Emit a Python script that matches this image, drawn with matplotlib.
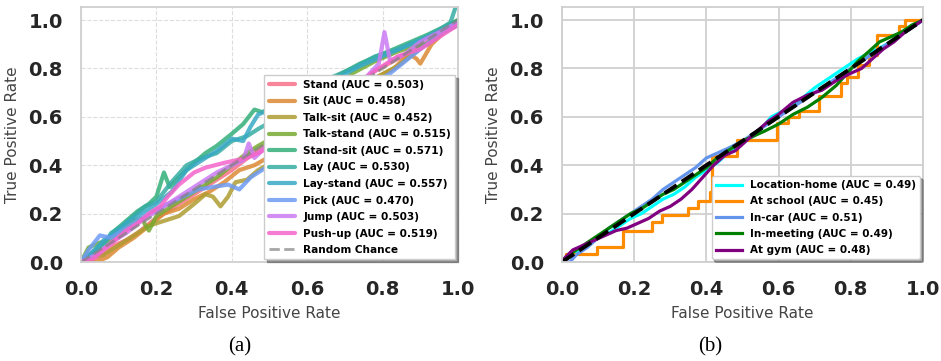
import matplotlib
matplotlib.use("Agg")
import matplotlib.pyplot as plt
import seaborn as sns

# ---- (a) activity ROC curves ----
act_names = ['Stand', 'Sit', 'Talk-sit', 'Talk-stand', 'Stand-sit', 'Lay',
             'Lay-stand', 'Pick', 'Jump', 'Push-up']
act_auc = [0.503, 0.458, 0.452, 0.515, 0.571, 0.530, 0.557, 0.470, 0.503, 0.519]

stand_fpr = [0, 0.03, 0.06, 0.09, 0.12, 0.15, 0.19, 0.23, 0.27, 0.31, 0.35, 0.40, 0.45, 0.55, 0.65, 0.72, 0.78, 0.84, 0.90, 0.95, 1.0]
stand_tpr = [0, 0.01, 0.03, 0.07, 0.09, 0.12, 0.17, 0.21, 0.25, 0.29, 0.33, 0.38, 0.44, 0.54, 0.64, 0.72, 0.79, 0.84, 0.89, 0.94, 0.98]

sit_fpr = [0, 0.04, 0.07, 0.10, 0.14, 0.18, 0.22, 0.26, 0.30, 0.34, 0.38, 0.42, 0.46, 0.55, 0.65, 0.72, 0.78, 0.83, 0.87, 0.89, 0.90, 0.93, 0.97, 1.0]
sit_tpr = [0, 0.0, 0.02, 0.06, 0.10, 0.15, 0.20, 0.22, 0.26, 0.29, 0.33, 0.38, 0.40, 0.48, 0.60, 0.70, 0.76, 0.80, 0.86, 0.84, 0.82, 0.90, 0.96, 0.99]

talksit_fpr = [0, 0.03, 0.06, 0.10, 0.14, 0.18, 0.22, 0.26, 0.30, 0.33, 0.35, 0.37, 0.39, 0.41, 0.44, 0.47, 0.55, 0.65, 0.72, 0.78, 0.84, 0.89, 0.94, 1.0]
talksit_tpr = [0, 0.02, 0.03, 0.07, 0.11, 0.15, 0.17, 0.19, 0.24, 0.28, 0.27, 0.23, 0.27, 0.33, 0.34, 0.38, 0.45, 0.57, 0.68, 0.76, 0.81, 0.87, 0.93, 0.98]

talkstand_fpr = [0, 0.02, 0.05, 0.08, 0.11, 0.14, 0.16, 0.18, 0.20, 0.24, 0.28, 0.32, 0.36, 0.40, 0.44, 0.47, 0.55, 0.65, 0.72, 0.78, 0.84, 0.88, 0.92, 0.96, 1.0]
talkstand_tpr = [0, 0.06, 0.08, 0.09, 0.13, 0.17, 0.18, 0.13, 0.19, 0.23, 0.27, 0.31, 0.35, 0.40, 0.45, 0.48, 0.55, 0.68, 0.78, 0.83, 0.87, 0.89, 0.90, 0.95, 1.0]

standsit_fpr = [0, 0.03, 0.06, 0.09, 0.12, 0.15, 0.18, 0.20, 0.22, 0.235, 0.26, 0.30, 0.33, 0.36, 0.40, 0.43, 0.46, 0.48, 0.55, 0.62, 0.68, 0.74, 0.80, 0.86, 0.92, 0.96, 1.0]
standsit_tpr = [0, 0.04, 0.08, 0.13, 0.17, 0.21, 0.24, 0.27, 0.37, 0.31, 0.35, 0.41, 0.45, 0.48, 0.53, 0.57, 0.63, 0.62, 0.66, 0.72, 0.77, 0.82, 0.86, 0.90, 0.94, 0.97, 1.0]

lay_fpr = [0, 0.03, 0.06, 0.08, 0.11, 0.14, 0.17, 0.20, 0.24, 0.28, 0.32, 0.36, 0.40, 0.44, 0.47, 0.55, 0.62, 0.66, 0.72, 0.78, 0.84, 0.90, 0.95, 0.98, 0.995, 1.0]
lay_tpr = [0, 0.03, 0.07, 0.12, 0.15, 0.19, 0.23, 0.25, 0.33, 0.40, 0.43, 0.45, 0.50, 0.52, 0.55, 0.62, 0.70, 0.76, 0.80, 0.85, 0.88, 0.92, 0.96, 0.99, 1.06, 1.06]

laystand_fpr = [0, 0.03, 0.06, 0.09, 0.12, 0.16, 0.20, 0.24, 0.28, 0.32, 0.36, 0.40, 0.43, 0.45, 0.47, 0.55, 0.63, 0.68, 0.74, 0.80, 0.86, 0.92, 0.96, 1.0]
laystand_tpr = [0, 0.04, 0.09, 0.12, 0.16, 0.20, 0.24, 0.29, 0.38, 0.42, 0.46, 0.51, 0.50, 0.56, 0.61, 0.66, 0.72, 0.76, 0.81, 0.85, 0.89, 0.93, 0.96, 0.99]

pick_fpr = [0, 0.02, 0.05, 0.08, 0.11, 0.15, 0.19, 0.23, 0.27, 0.31, 0.35, 0.39, 0.42, 0.45, 0.47, 0.55, 0.65, 0.72, 0.78, 0.82, 0.86, 0.90, 0.95, 1.0]
pick_tpr = [0, 0.05, 0.11, 0.10, 0.13, 0.17, 0.21, 0.24, 0.27, 0.30, 0.31, 0.32, 0.30, 0.35, 0.37, 0.45, 0.58, 0.68, 0.74, 0.78, 0.83, 0.88, 0.94, 0.98]

jump_fpr = [0, 0.04, 0.08, 0.12, 0.16, 0.20, 0.24, 0.28, 0.32, 0.36, 0.40, 0.43, 0.445, 0.46, 0.50, 0.60, 0.70, 0.76, 0.79, 0.805, 0.82, 0.86, 0.90, 0.95, 1.0]
jump_tpr = [0, 0.03, 0.08, 0.12, 0.17, 0.21, 0.25, 0.29, 0.33, 0.37, 0.40, 0.42, 0.49, 0.43, 0.49, 0.60, 0.70, 0.77, 0.82, 0.95, 0.83, 0.86, 0.91, 0.95, 0.99]

pushup_fpr = [0, 0.03, 0.06, 0.09, 0.12, 0.15, 0.18, 0.21, 0.23, 0.26, 0.30, 0.33, 0.38, 0.41, 0.44, 0.47, 0.55, 0.65, 0.72, 0.78, 0.84, 0.90, 0.95, 1.0]
pushup_tpr = [0, 0.01, 0.05, 0.09, 0.13, 0.16, 0.20, 0.23, 0.27, 0.32, 0.37, 0.39, 0.41, 0.42, 0.43, 0.45, 0.52, 0.63, 0.72, 0.79, 0.85, 0.88, 0.93, 0.98]

act_fpr = [stand_fpr, sit_fpr, talksit_fpr, talkstand_fpr, standsit_fpr, lay_fpr,
           laystand_fpr, pick_fpr, jump_fpr, pushup_fpr]
act_tpr = [stand_tpr, sit_tpr, talksit_tpr, talkstand_tpr, standsit_tpr, lay_tpr,
           laystand_tpr, pick_tpr, jump_tpr, pushup_tpr]

# ---- (b) context ROC curves ----
ctx_names = ['Location-home', 'At school', 'In-car', 'In-meeting', 'At gym']
ctx_auc = [0.49, 0.45, 0.51, 0.49, 0.48]
ctx_colors = ['cyan', 'darkorange', 'cornflowerblue', 'green', 'purple']
ctx_steps = [False, True, False, False, False]

home_fpr = [0, 0.01, 0.04, 0.07, 0.10, 0.13, 0.16, 0.19, 0.22, 0.25, 0.28, 0.31, 0.34, 0.37, 0.40, 0.43, 0.46, 0.50, 0.54, 0.58, 0.62, 0.66, 0.70, 0.74, 0.78, 0.82, 0.86, 0.90, 0.94, 0.97, 1.0]
home_tpr = [0, 0.01, 0.04, 0.07, 0.10, 0.12, 0.15, 0.18, 0.20, 0.23, 0.26, 0.28, 0.31, 0.35, 0.38, 0.41, 0.45, 0.49, 0.53, 0.60, 0.63, 0.67, 0.72, 0.76, 0.80, 0.84, 0.87, 0.90, 0.94, 0.97, 1.0]

school_fpr = [0, 0.012, 0.096, 0.17, 0.25, 0.276, 0.35, 0.378, 0.41, 0.415, 0.485, 0.596, 0.625, 0.657, 0.712, 0.772, 0.79, 0.82, 0.85, 0.874, 0.935, 0.95, 1.0]
school_tpr = [0, 0.034, 0.062, 0.13, 0.165, 0.193, 0.224, 0.254, 0.289, 0.44, 0.504, 0.573, 0.60, 0.626, 0.688, 0.738, 0.766, 0.814, 0.855, 0.94, 0.975, 1.0, 1.0]

car_fpr = [0, 0.022, 0.04, 0.07, 0.10, 0.13, 0.16, 0.19, 0.22, 0.25, 0.28, 0.31, 0.34, 0.37, 0.40, 0.43, 0.46, 0.50, 0.54, 0.58, 0.62, 0.66, 0.70, 0.74, 0.78, 0.82, 0.86, 0.90, 0.94, 0.97, 1.0]
car_tpr = [0, 0.0, 0.03, 0.06, 0.10, 0.14, 0.17, 0.20, 0.23, 0.26, 0.30, 0.33, 0.36, 0.39, 0.43, 0.45, 0.47, 0.50, 0.54, 0.58, 0.62, 0.66, 0.70, 0.74, 0.78, 0.82, 0.86, 0.90, 0.94, 0.97, 1.0]

meeting_fpr = [0, 0.01, 0.04, 0.07, 0.10, 0.13, 0.16, 0.19, 0.22, 0.25, 0.28, 0.31, 0.34, 0.37, 0.40, 0.43, 0.46, 0.50, 0.53, 0.56, 0.60, 0.64, 0.68, 0.72, 0.76, 0.79, 0.82, 0.85, 0.88, 0.91, 0.94, 0.97, 1.0]
meeting_tpr = [0, 0.02, 0.05, 0.08, 0.11, 0.14, 0.17, 0.20, 0.22, 0.25, 0.28, 0.30, 0.33, 0.36, 0.39, 0.43, 0.46, 0.50, 0.52, 0.54, 0.57, 0.61, 0.64, 0.68, 0.73, 0.78, 0.83, 0.87, 0.91, 0.93, 0.95, 0.98, 1.0]

gym_fpr = [0, 0.01, 0.03, 0.06, 0.09, 0.12, 0.15, 0.18, 0.21, 0.24, 0.27, 0.30, 0.33, 0.36, 0.39, 0.42, 0.45, 0.48, 0.51, 0.54, 0.57, 0.60, 0.64, 0.68, 0.72, 0.76, 0.80, 0.83, 0.86, 0.89, 0.92, 0.95, 0.98, 1.0]
gym_tpr = [0, 0.02, 0.05, 0.07, 0.09, 0.11, 0.13, 0.14, 0.16, 0.18, 0.21, 0.23, 0.26, 0.30, 0.35, 0.40, 0.44, 0.46, 0.50, 0.54, 0.58, 0.61, 0.66, 0.69, 0.71, 0.75, 0.78, 0.80, 0.84, 0.88, 0.91, 0.95, 0.98, 1.0]

ctx_fpr = [home_fpr, school_fpr, car_fpr, meeting_fpr, gym_fpr]
ctx_tpr = [home_tpr, school_tpr, car_tpr, meeting_tpr, gym_tpr]

ticks = [0.0, 0.2, 0.4, 0.6, 0.8, 1.0]

# ---- figure ----
fig = plt.figure(figsize=(9.41, 3.61), dpi=100)
ax1 = fig.add_axes([0.0861, 0.2742, 0.4006, 0.7064])
ax2 = fig.add_axes([0.5972, 0.2742, 0.3836, 0.7064])


def style_axes(ax, grid_ls, grid_lw, grid_color):
    ax.set_xlim(0, 1.0)
    ax.set_ylim(0, 1.054)
    ax.set_xticks(ticks)
    ax.set_yticks(ticks)
    ax.set_xticklabels(["%.1f" % t for t in ticks])
    ax.set_yticklabels(["%.1f" % t for t in ticks])
    ax.tick_params(length=0, pad=13, labelsize=14, labelcolor='#262626')
    for lab in ax.get_xticklabels() + ax.get_yticklabels():
        lab.set_fontweight('bold')
    ax.grid(True, ls=grid_ls, lw=grid_lw, color=grid_color)
    ax.set_axisbelow(True)
    for sp in ax.spines.values():
        sp.set_color('#cfcfcf')
        sp.set_linewidth(1.3)
    ax.set_xlabel('False Positive Rate', fontsize=11, color='#444444', labelpad=5)
    ax.set_ylabel('True Positive Rate', fontsize=11, color='#444444', labelpad=6)


# (a)
pal = sns.color_palette("husl", 10)
for i in range(len(act_names)):
    ax1.plot(act_fpr[i], act_tpr[i], color=pal[i], lw=3, alpha=0.85,
             solid_joinstyle='round', solid_capstyle='round',
             label="%s (AUC = %.3f)" % (act_names[i], act_auc[i]))
ax1.plot([0, 1], [0, 1], ls='--', color='gray', lw=2, alpha=0.7, label='Random Chance')
style_axes(ax1, '--', 0.8, '#dddddd')
leg1 = ax1.legend(loc='lower right', prop={'size': 7.6, 'weight': 'bold'},
                  shadow=True, framealpha=1, fancybox=False, edgecolor='#cccccc',
                  handlelength=2.5, borderaxespad=0.25, labelspacing=0.62)
leg1.get_frame().set_linewidth(1.0)

# (b)
for i in range(len(ctx_names)):
    ds = 'steps-post' if ctx_steps[i] else 'default'
    ax2.plot(ctx_fpr[i], ctx_tpr[i], color=ctx_colors[i], lw=2.3, drawstyle=ds,
             label="%s (AUC = %.2f)" % (ctx_names[i], ctx_auc[i]))
ax2.plot([0, 1], [0, 1], 'k--', lw=2.8)
style_axes(ax2, '-', 1.3, '#d0d0d0')
leg2 = ax2.legend(loc='lower right', prop={'size': 7.5, 'weight': 'bold'},
                  shadow=True, framealpha=1, fancybox=True, edgecolor='#cccccc',
                  handlelength=2.5, borderaxespad=0.25, labelspacing=0.6)

fig.text(240 / 941, 1 - 347 / 361, '(a)', ha='center', va='center',
         fontsize=15, family='Liberation Serif')
fig.text(710 / 941, 1 - 347 / 361, '(b)', ha='center', va='center',
         fontsize=15, family='Liberation Serif')

plt.savefig('out.png', dpi=100)
